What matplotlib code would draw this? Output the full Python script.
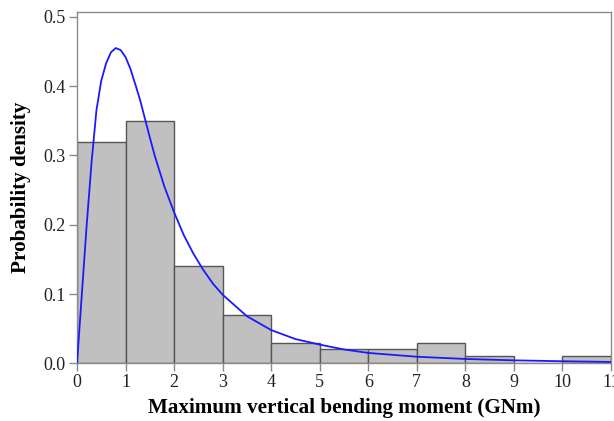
import matplotlib
matplotlib.use("Agg")
import matplotlib.pyplot as plt
from matplotlib.ticker import FormatStrFormatter

# Histogram: bin left edges (GNm) and probability densities
bin_left = [0, 1, 2, 3, 4, 5, 6, 7, 8, 9, 10]
density = [0.32, 0.35, 0.14, 0.07, 0.03, 0.02, 0.02, 0.03, 0.01, 0.0, 0.01]

# Fitted probability density curve
curve_x = [0.0, 0.1, 0.2, 0.3, 0.4, 0.5, 0.6, 0.7, 0.8, 0.9, 1.0, 1.1, 1.2,
           1.3, 1.4, 1.5, 1.6, 1.8, 2.0, 2.2, 2.4, 2.6, 2.8, 3.0, 3.5, 4.0,
           4.5, 5.0, 5.5, 6.0, 7.0, 8.0, 9.0, 10.0, 11.0]
curve_y = [0.0, 0.10, 0.20, 0.29, 0.365, 0.408, 0.433, 0.449, 0.455, 0.452,
           0.442, 0.425, 0.403, 0.380, 0.353, 0.326, 0.300, 0.255, 0.218,
           0.185, 0.158, 0.135, 0.115, 0.099, 0.068, 0.048, 0.035, 0.027,
           0.020, 0.015, 0.0095, 0.0063, 0.0043, 0.003, 0.002]

x_ticks = list(range(0, 12))
y_ticks = [0.0, 0.1, 0.2, 0.3, 0.4, 0.5]

plt.rcParams["font.family"] = ["Liberation Serif", "DejaVu Serif"]

fig = plt.figure(figsize=(6.14, 4.21), dpi=100)
ax = fig.add_axes([0.1254, 0.137, 0.8697, 0.8345])

ax.bar(bin_left, density, width=1.0, align="edge", color="#c0c0c0",
       edgecolor="#555555", linewidth=1.0, zorder=2)
ax.plot(curve_x, curve_y, color="#1a1aff", linewidth=1.3, zorder=3)

ax.set_xlim(0, 11)
ax.set_ylim(0, 0.507)
ax.set_xticks(x_ticks)
ax.set_yticks(y_ticks)
ax.yaxis.set_major_formatter(FormatStrFormatter("%.1f"))

for sp in ax.spines.values():
    sp.set_color("#8a8a8a")
    sp.set_linewidth(1.0)
ax.tick_params(direction="out", length=6, width=1.0, color="#8a8a8a",
               labelsize=13, labelcolor="#222222", pad=2)

ax.set_xlabel("Maximum vertical bending moment (GNm)", fontsize=15.2,
              fontweight="bold", labelpad=5)
ax.set_ylabel("Probability density", fontsize=15.2, fontweight="bold",
              labelpad=9)

fig.savefig("out.png", dpi=100)
